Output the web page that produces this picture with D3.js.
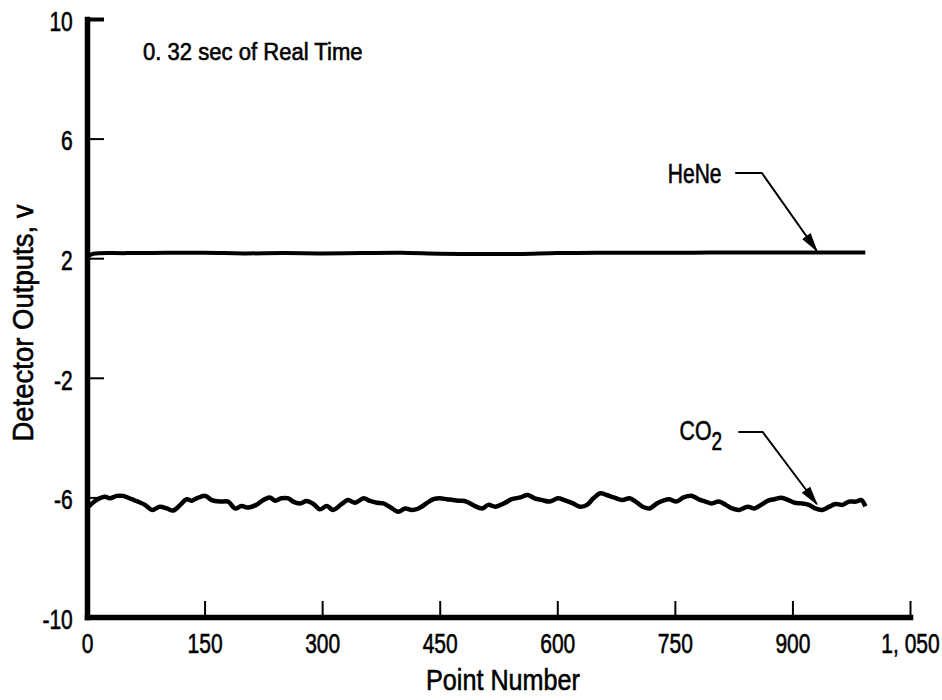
<!DOCTYPE html>
<html>
<head>
<meta charset="utf-8">
<script src="https://cdnjs.cloudflare.com/ajax/libs/d3/7.8.5/d3.min.js"></script>
<style>
  body { margin: 0; background: #fff; }
  svg text { font-family: "Liberation Sans", Arial, sans-serif; fill: #000; stroke: #000; stroke-width: 0.6px; }
</style>
</head>
<body>
<div id="chart"></div>
<script>
// tick values and labels as printed on the figure
var x_ticks        = [0, 150, 300, 450, 600, 750, 900, 1050];
var x_tick_labels  = ["0", "150", "300", "450", "600", "750", "900", "1, 050"];
var y_ticks        = [-10, -6, -2, 2, 6, 10];
var y_tick_labels  = ["-10", "-6", "-2", "2", "6", "10"];

// HeNe detector trace (point number, volts)
var hene_points = [0, 8, 50, 100, 150, 200, 250, 300, 350, 400, 450, 500, 550, 600, 650, 700, 750, 800, 850, 900, 950, 993];
var hene_values = [2.05, 2.15, 2.17, 2.18, 2.18, 2.16, 2.17, 2.16, 2.17, 2.18, 2.15, 2.14, 2.14, 2.17, 2.18, 2.18, 2.18, 2.19, 2.19, 2.19, 2.19, 2.19];

// CO2 detector trace (point number, volts)
var co2_points = [2, 12, 23, 29, 38, 46, 57, 65, 74, 83, 93, 102, 110, 119, 127, 134, 140, 151, 159, 170,
  180, 189, 197, 206, 216, 225, 233, 240, 248, 257, 263, 272, 280, 289, 297, 306, 314, 325, 333, 342,
  353, 361, 370, 378, 387, 397, 406, 414, 423, 433, 442, 450, 459, 467, 476, 484, 495, 504, 512, 521,
  532, 542, 553, 562, 571, 581, 590, 601, 609, 620, 629, 638, 646, 655, 663, 672, 683, 692, 700, 709,
  718, 726, 735, 743, 752, 761, 772, 780, 789, 797, 806, 815, 823, 832, 843, 851, 860, 869, 877, 886,
  895, 903, 912, 921, 929, 938, 947, 955, 964, 972, 981, 988, 993];
var co2_values = [-6.31, -6.09, -5.98, -6.03, -5.95, -5.95, -6.06, -6.14, -6.25, -6.42, -6.31, -6.37, -6.44, -6.25, -6.06, -6.11, -6.03, -5.95, -6.09, -6.14,
  -6.14, -6.37, -6.29, -6.34, -6.25, -6.09, -6.00, -6.11, -6.03, -6.03, -6.14, -6.20, -6.12, -6.22, -6.40, -6.29, -6.42, -6.22, -6.09, -6.18,
  -6.03, -6.12, -6.18, -6.20, -6.33, -6.48, -6.37, -6.42, -6.37, -6.20, -6.06, -6.03, -6.06, -6.09, -6.11, -6.14, -6.29, -6.37, -6.25, -6.31,
  -6.20, -6.06, -6.00, -5.92, -6.03, -6.09, -6.14, -6.03, -6.09, -6.20, -6.31, -6.25, -6.03, -5.86, -5.92, -6.00, -6.09, -6.03, -6.14, -6.31,
  -6.37, -6.22, -6.11, -6.06, -6.14, -6.00, -5.95, -6.06, -6.14, -6.20, -6.14, -6.25, -6.37, -6.42, -6.31, -6.37, -6.25, -6.11, -6.06, -6.01,
  -6.09, -6.18, -6.20, -6.25, -6.37, -6.42, -6.31, -6.22, -6.25, -6.14, -6.14, -6.09, -6.30];

var width_chart  = 942;
var height_chart = 700;

var x_chart = d3.scaleLinear().domain([0, 1050]).range([87, 910]);
var y_chart = d3.scaleLinear().domain([-10, 10]).range([617, 19]);

var svg_chart = d3.select("#chart").append("svg")
  .attr("width", width_chart)
  .attr("height", height_chart);

svg_chart.append("defs").append("marker")
  .attr("id", "arrow")
  .attr("viewBox", "0 0 10 10")
  .attr("refX", 9)
  .attr("refY", 5)
  .attr("markerWidth", 20)
  .attr("markerHeight", 20)
  .attr("markerUnits", "userSpaceOnUse")
  .attr("orient", "auto")
  .append("path")
  .attr("d", "M0,2.4 L10,5 L0,7.6 Z")
  .attr("fill", "#000");

// the figure's lettering is a condensed face: squeeze Liberation Sans sideways
function condensed_text (parent, x, y, size, squeeze, anchor) {
  return parent.append("text")
    .attr("transform", "translate(" + x + "," + y + ") scale(" + squeeze + ",1)")
    .attr("text-anchor", anchor || "start")
    .style("font-size", size + "px");
}

// axes, ticks pointing into the plot
var x_axis = svg_chart.append("g")
  .attr("transform", "translate(0," + y_chart(-10) + ")")
  .call(d3.axisBottom(x_chart)
    .tickValues(x_ticks)
    .tickFormat(function (d, i) { return x_tick_labels[i]; })
    .tickSize(-16)
    .tickSizeOuter(0)
    .tickPadding(16));

var y_axis = svg_chart.append("g")
  .attr("transform", "translate(" + x_chart(0) + ",0)")
  .call(d3.axisLeft(y_chart)
    .tickValues(y_ticks)
    .tickFormat(function (d, i) { return y_tick_labels[i]; })
    .tickSize(-17)
    .tickSizeOuter(0)
    .tickPadding(19));

svg_chart.selectAll(".domain")
  .attr("stroke", "#000")
  .attr("stroke-width", 5.5)
  .attr("stroke-linecap", "square");
svg_chart.selectAll(".tick line")
  .attr("stroke", "#000")
  .attr("stroke-width", 2);
svg_chart.selectAll(".tick text")
  .attr("transform", "scale(0.75,1)")
  .attr("dy", "0.4em")
  .style("font-size", "28px");
x_axis.selectAll(".tick text").attr("dy", "0.71em");

// the top tick of the y axis is drawn heavier
y_axis.selectAll(".tick").filter(function (d) { return d === 10; })
  .select("line").attr("stroke-width", 4);

// traces
var line_chart = d3.line()
  .curve(d3.curveCatmullRom)
  .x(function (d) { return x_chart(d[0]); })
  .y(function (d) { return y_chart(d[1]); });

var hene_data = hene_points.map(function (p, i) { return [p, hene_values[i]]; });
var co2_data  = co2_points.map(function (p, i) { return [p, co2_values[i]]; });

svg_chart.append("path")
  .datum(hene_data)
  .attr("d", line_chart)
  .attr("fill", "none")
  .attr("stroke", "#000")
  .attr("stroke-width", 4);

svg_chart.append("path")
  .datum(co2_data)
  .attr("d", line_chart)
  .attr("fill", "none")
  .attr("stroke", "#000")
  .attr("stroke-width", 4.5)
  .attr("stroke-linejoin", "round");

// labels with leader arrows
condensed_text(svg_chart, x_chart(741), y_chart(4.52), 28, 0.75).text("HeNe");
svg_chart.append("path")
  .attr("d", d3.line()([
    [x_chart(827), y_chart(4.85)],
    [x_chart(861), y_chart(4.85)],
    [x_chart(931), y_chart(2.25)]
  ]))
  .attr("fill", "none")
  .attr("stroke", "#000")
  .attr("stroke-width", 2)
  .attr("marker-end", "url(#arrow)");

var co2_text = condensed_text(svg_chart, x_chart(756), y_chart(-4.08), 28, 0.76);
co2_text.append("tspan").text("CO");
co2_text.append("tspan").attr("dy", 10).style("font-size", "25px").text("2");
svg_chart.append("path")
  .attr("d", d3.line()([
    [x_chart(831), y_chart(-3.81)],
    [x_chart(862), y_chart(-3.81)],
    [x_chart(931), y_chart(-6.22)]
  ]))
  .attr("fill", "none")
  .attr("stroke", "#000")
  .attr("stroke-width", 2)
  .attr("marker-end", "url(#arrow)");

condensed_text(svg_chart, 143, 60, 24, 0.92).text("0. 32 sec of Real Time");

// axis titles
condensed_text(svg_chart, 503, 690, 30, 0.84, "middle").text("Point Number");

svg_chart.append("text")
  .attr("transform", "translate(33," + 323 + ") rotate(-90) scale(0.95,1)")
  .attr("text-anchor", "middle")
  .style("font-size", "29px")
  .text("Detector Outputs, v");
</script>
</body>
</html>
